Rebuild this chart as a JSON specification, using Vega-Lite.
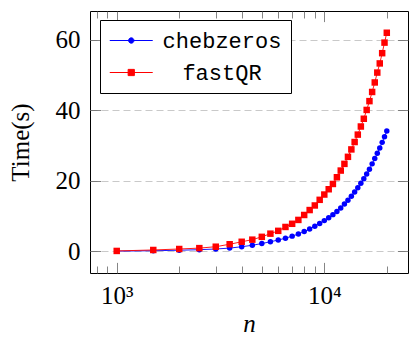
{
  "$schema": "https://vega.github.io/schema/vega-lite/v6.json",
  "width": 318,
  "height": 262,
  "autosize": "none",
  "padding": {"left": 90, "top": 11, "right": 1, "bottom": 64},
  "background": "white",
  "config": {
    "font": "Liberation Serif",
    "view": {"stroke": "black", "strokeWidth": 1},
    "axis": {"labelColor": "black", "titleColor": "black", "tickColor": "#666666", "tickWidth": 0.8, "domain": false, "grid": false}
  },
  "data": {
    "values": [
      {"series": "chebzeros", "n": 1000, "time": 0.05},
      {"series": "chebzeros", "n": 1500, "time": 0.15},
      {"series": "chebzeros", "n": 2000, "time": 0.3},
      {"series": "chebzeros", "n": 2500, "time": 0.45},
      {"series": "chebzeros", "n": 3000, "time": 0.65},
      {"series": "chebzeros", "n": 3500, "time": 0.9},
      {"series": "chebzeros", "n": 4000, "time": 1.3},
      {"series": "chebzeros", "n": 4500, "time": 1.7},
      {"series": "chebzeros", "n": 5000, "time": 2.2},
      {"series": "chebzeros", "n": 5500, "time": 2.7},
      {"series": "chebzeros", "n": 6000, "time": 3.2},
      {"series": "chebzeros", "n": 6500, "time": 3.7},
      {"series": "chebzeros", "n": 7000, "time": 4.3},
      {"series": "chebzeros", "n": 7500, "time": 4.9},
      {"series": "chebzeros", "n": 8000, "time": 5.6},
      {"series": "chebzeros", "n": 8500, "time": 6.3},
      {"series": "chebzeros", "n": 9000, "time": 7.1},
      {"series": "chebzeros", "n": 9500, "time": 7.9},
      {"series": "chebzeros", "n": 10000, "time": 8.7},
      {"series": "chebzeros", "n": 10500, "time": 9.5},
      {"series": "chebzeros", "n": 11000, "time": 10.4},
      {"series": "chebzeros", "n": 11500, "time": 11.3},
      {"series": "chebzeros", "n": 12000, "time": 12.3},
      {"series": "chebzeros", "n": 12500, "time": 13.4},
      {"series": "chebzeros", "n": 13000, "time": 14.5},
      {"series": "chebzeros", "n": 13500, "time": 15.6},
      {"series": "chebzeros", "n": 14000, "time": 16.8},
      {"series": "chebzeros", "n": 14500, "time": 18.0},
      {"series": "chebzeros", "n": 15000, "time": 19.3},
      {"series": "chebzeros", "n": 15500, "time": 20.6},
      {"series": "chebzeros", "n": 16000, "time": 21.9},
      {"series": "chebzeros", "n": 16500, "time": 23.3},
      {"series": "chebzeros", "n": 17000, "time": 24.8},
      {"series": "chebzeros", "n": 17500, "time": 26.3},
      {"series": "chebzeros", "n": 18000, "time": 27.8},
      {"series": "chebzeros", "n": 18500, "time": 29.3},
      {"series": "chebzeros", "n": 19000, "time": 30.9},
      {"series": "chebzeros", "n": 19500, "time": 32.5},
      {"series": "chebzeros", "n": 20000, "time": 34.1},
      {"series": "fastQR", "n": 1000, "time": 0.1},
      {"series": "fastQR", "n": 1500, "time": 0.37},
      {"series": "fastQR", "n": 2000, "time": 0.65},
      {"series": "fastQR", "n": 2500, "time": 0.9},
      {"series": "fastQR", "n": 3000, "time": 1.3},
      {"series": "fastQR", "n": 3500, "time": 2.0},
      {"series": "fastQR", "n": 4000, "time": 2.7},
      {"series": "fastQR", "n": 4500, "time": 3.3},
      {"series": "fastQR", "n": 5000, "time": 4.1},
      {"series": "fastQR", "n": 5500, "time": 5.0},
      {"series": "fastQR", "n": 6000, "time": 5.8},
      {"series": "fastQR", "n": 6500, "time": 6.9},
      {"series": "fastQR", "n": 7000, "time": 7.8},
      {"series": "fastQR", "n": 7500, "time": 8.9},
      {"series": "fastQR", "n": 8000, "time": 10.3},
      {"series": "fastQR", "n": 8500, "time": 11.7},
      {"series": "fastQR", "n": 9000, "time": 13.0},
      {"series": "fastQR", "n": 9500, "time": 14.6},
      {"series": "fastQR", "n": 10000, "time": 16.1},
      {"series": "fastQR", "n": 10500, "time": 17.6},
      {"series": "fastQR", "n": 11000, "time": 19.1},
      {"series": "fastQR", "n": 11500, "time": 21.0},
      {"series": "fastQR", "n": 12000, "time": 22.9},
      {"series": "fastQR", "n": 12500, "time": 24.8},
      {"series": "fastQR", "n": 13000, "time": 26.8},
      {"series": "fastQR", "n": 13500, "time": 28.9},
      {"series": "fastQR", "n": 14000, "time": 31.0},
      {"series": "fastQR", "n": 14500, "time": 33.1},
      {"series": "fastQR", "n": 15000, "time": 35.4},
      {"series": "fastQR", "n": 15500, "time": 37.6},
      {"series": "fastQR", "n": 16000, "time": 40.1},
      {"series": "fastQR", "n": 16500, "time": 42.6},
      {"series": "fastQR", "n": 17000, "time": 45.2},
      {"series": "fastQR", "n": 17500, "time": 47.9},
      {"series": "fastQR", "n": 18000, "time": 50.7},
      {"series": "fastQR", "n": 18500, "time": 53.3},
      {"series": "fastQR", "n": 19000, "time": 56.2},
      {"series": "fastQR", "n": 19500, "time": 59.2},
      {"series": "fastQR", "n": 20000, "time": 62.0}
    ]
  },
  "encoding": {
    "color": {
      "field": "series",
      "type": "nominal",
      "scale": {"domain": ["chebzeros", "fastQR"], "range": ["#0000ff", "#ff0000"]},
      "legend": {
        "orient": "none",
        "legendX": 10,
        "legendY": 9,
        "title": null,
        "padding": 9,
        "strokeColor": "black",
        "fillColor": "white",
        "cornerRadius": 0,
        "symbolSize": 462,
        "symbolStrokeWidth": 1,
        "symbolType": "M-1,0H3M1.24,0A0.24,0.24,0,1,1,0.76,0A0.24,0.24,0,1,1,1.24,0Z",
        "labelFont": "Liberation Mono",
        "labelFontSize": 22,
        "labelColor": "black",
        "labelAlign": "center",
        "labelOffset": 90,
        "labelLimit": 400,
        "rowPadding": 9,
        "encode": {
          "symbols": {
            "update": {
              "shape": {"signal": "datum.value === 'chebzeros' ? 'M-1,0H3M1.25,0A0.25,0.25,0,1,1,0.75,0A0.25,0.25,0,1,1,1.25,0Z' : 'M-1,0H3M0.71,-0.29H1.29V0.29H0.71Z'"},
              "size": {"value": 462},
              "fill": {"signal": "datum.value === 'chebzeros' ? '#0000ff' : '#ff0000'"},
              "stroke": {"signal": "datum.value === 'chebzeros' ? '#0000ff' : '#ff0000'"},
              "strokeWidth": {"value": 1},
              "opacity": {"value": 1}
            }
          }
        }
      }
    }
  },
  "layer": [
    {
      "mark": {"type": "line", "strokeWidth": 0.9},
      "encoding": {
        "x": {
          "field": "n", "type": "quantitative",
          "scale": {"type": "log", "domain": [743.5, 25304], "nice": false},
          "axis": {
            "orient": "bottom", "values": [1000, 10000],
            "labelExpr": "datum.value == 1000 ? '10³' : '10⁴'",
            "tickSize": -10.6, "labelPadding": 21.4, "labelFontSize": 25, "labelFlush": false,
            "title": "n", "titleFontSize": 25, "titleFontStyle": "italic", "titleFontWeight": "normal", "titlePadding": 3
          }
        },
        "y": {
          "field": "time", "type": "quantitative",
          "scale": {"domain": [-6.16, 68.17], "nice": false, "zero": false},
          "axis": {
            "orient": "left", "values": [0, 20, 40, 60],
            "tickSize": -10.6, "labelPadding": 20.6, "labelFontSize": 25, "labelFlush": false,
            "grid": true, "gridColor": "#bbbbbb", "gridDash": [7, 4], "gridWidth": 0.8,
            "title": "Time(s)", "titleFontSize": 25, "titleFontWeight": "normal", "titlePadding": 22
          }
        }
      }
    },
    {
      "transform": [{"filter": "datum.series === 'chebzeros'"}],
      "mark": {"type": "point", "filled": true, "opacity": 1, "shape": "circle", "size": 30},
      "encoding": {
        "x": {
          "field": "n", "type": "quantitative",
          "scale": {"type": "log", "domain": [743.5, 25304], "nice": false},
          "axis": {"orient": "bottom", "values": [800, 900, 2000, 3000, 4000, 5000, 6000, 7000, 8000, 9000, 20000], "tickSize": -7, "labels": false, "title": null}
        },
        "y": {
          "field": "time", "type": "quantitative",
          "scale": {"domain": [-6.16, 68.17], "nice": false, "zero": false},
          "axis": {"orient": "right", "values": [0, 20, 40, 60], "tickSize": -10.6, "labels": false, "title": null}
        }
      }
    },
    {
      "transform": [{"filter": "datum.series === 'fastQR'"}],
      "mark": {"type": "point", "filled": true, "opacity": 1, "shape": "square", "size": 42},
      "encoding": {
        "x": {
          "field": "n", "type": "quantitative",
          "scale": {"type": "log", "domain": [743.5, 25304], "nice": false},
          "axis": {"orient": "top", "values": [1000, 10000], "tickSize": -10.6, "labels": false, "title": null}
        },
        "y": {"field": "time", "type": "quantitative", "axis": null}
      }
    },
    {
      "mark": {"type": "point", "opacity": 0},
      "encoding": {
        "x": {
          "field": "n", "type": "quantitative",
          "scale": {"type": "log", "domain": [743.5, 25304], "nice": false},
          "axis": {"orient": "top", "values": [800, 900, 2000, 3000, 4000, 5000, 6000, 7000, 8000, 9000, 20000], "tickSize": -7, "labels": false, "title": null}
        },
        "y": {"field": "time", "type": "quantitative", "axis": null}
      }
    }
  ],
  "resolve": {"axis": {"x": "independent", "y": "independent"}}
}
